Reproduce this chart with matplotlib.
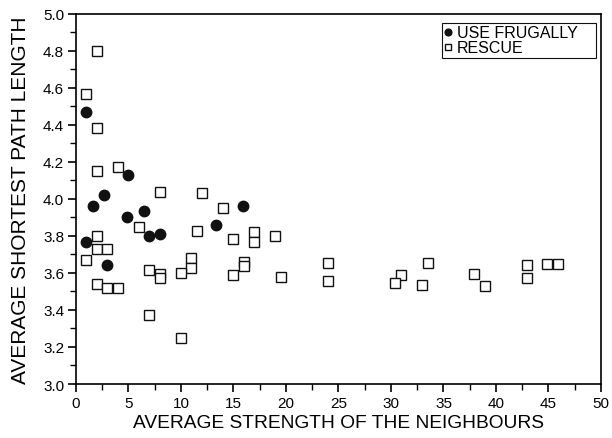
import matplotlib
matplotlib.use("Agg")
import matplotlib.pyplot as plt
from matplotlib.ticker import MultipleLocator, FormatStrFormatter

plt.rcParams['font.family'] = ['Liberation Sans', 'DejaVu Sans']

frugal_x = [1.0, 1.6, 2.7, 5.0, 4.9, 6.5, 15.9, 1.0, 3.0, 7.0, 8.0, 13.3]
frugal_y = [4.47, 3.96, 4.02, 4.13, 3.905, 3.935, 3.96, 3.765, 3.645, 3.80, 3.81, 3.86]

rescue_x = [2.0, 1.0, 2.0, 2.0, 4.0, 8.0, 12.0, 14.0, 6.0, 11.5, 2.0, 17.0, 17.0,
            19.0, 15.0, 2.0, 3.0, 1.0, 11.0, 11.0, 7.0, 8.0, 8.0, 10.0, 16.0, 16.0,
            15.0, 19.5, 2.0, 3.0, 4.0, 7.0, 10.0,
            24.0, 24.0, 31.0, 30.4, 33.5, 33.0, 37.9, 39.0, 43.0, 43.0, 44.9, 45.9]
rescue_y = [4.80, 4.565, 4.385, 4.15, 4.173, 4.04, 4.03, 3.953, 3.85, 3.827, 3.80, 3.82, 3.77,
            3.80, 3.784, 3.73, 3.73, 3.67, 3.683, 3.625, 3.618, 3.596, 3.571, 3.60, 3.658, 3.64,
            3.589, 3.578, 3.542, 3.52, 3.517, 3.375, 3.25,
            3.656, 3.555, 3.588, 3.544, 3.654, 3.533, 3.594, 3.531, 3.643, 3.571, 3.649, 3.65]

fig = plt.figure(figsize=(6.12, 4.39), dpi=100)
ax = fig.add_axes([0.124, 0.123, 0.858, 0.843])

ax.plot(frugal_x, frugal_y, 'o', color='#111111', markersize=7.5, linestyle='none',
        label='USE FRUGALLY', zorder=3)
ax.plot(rescue_x, rescue_y, 's', markerfacecolor='white', markeredgecolor='#111111',
        markeredgewidth=1.0, markersize=7.5, linestyle='none', label='RESCUE', zorder=2)

ax.set_xlim(0, 50)
ax.set_ylim(3.0, 5.0)
ax.xaxis.set_major_locator(MultipleLocator(5))
ax.xaxis.set_minor_locator(MultipleLocator(2.5))
ax.yaxis.set_major_locator(MultipleLocator(0.2))
ax.yaxis.set_minor_locator(MultipleLocator(0.1))
ax.yaxis.set_major_formatter(FormatStrFormatter('%.1f'))
ax.tick_params(which='major', direction='out', length=6, width=1.2, labelsize=11, pad=2.5)
ax.tick_params(which='minor', direction='out', length=4, width=1.0)
for s in ax.spines.values():
    s.set_linewidth(1.2)

ax.set_xlabel('AVERAGE STRENGTH OF THE NEIGHBOURS', fontsize=13.8, labelpad=3)
ax.set_ylabel('AVERAGE SHORTEST PATH LENGTH', fontsize=15, labelpad=9)

leg = ax.legend(loc='upper left', bbox_to_anchor=(0.697, 0.886, 0.293, 0.0897),
                mode='expand', fontsize=11.5,
                markerscale=0.65, handlelength=0.5, handletextpad=0.3,
                borderpad=0.15, labelspacing=0.0, fancybox=False, framealpha=1,
                edgecolor='#111111', borderaxespad=0.0)
leg.get_frame().set_linewidth(0.8)

fig.savefig('out.png', dpi=100)
